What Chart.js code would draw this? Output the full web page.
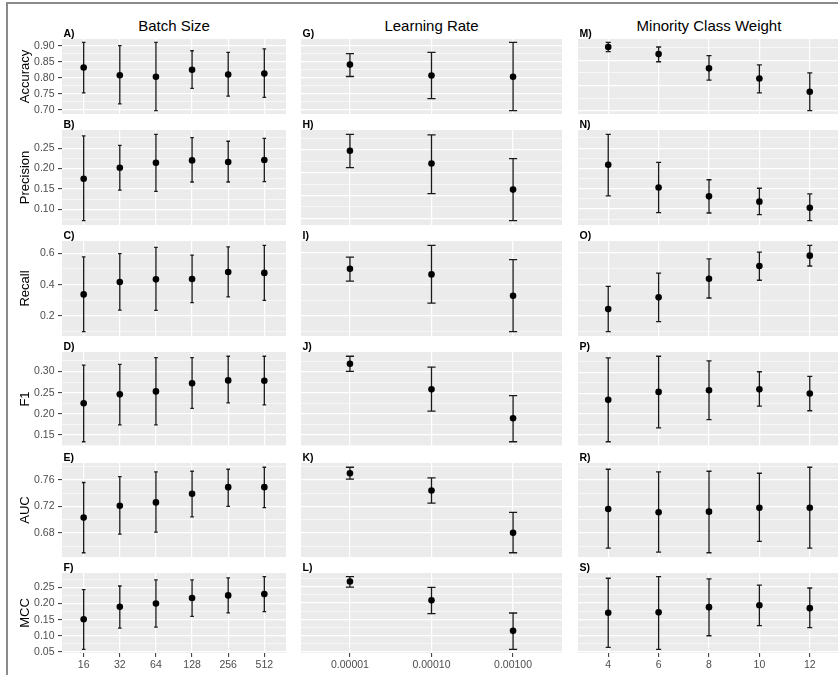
<!DOCTYPE html>
<html>
<head>
<meta charset="utf-8">
<script src="https://cdn.jsdelivr.net/npm/chart.js@4.4.1/dist/chart.umd.min.js"></script>
<style>
  html, body { margin: 0; padding: 0; background: #fff; overflow: hidden; }
  #page { position: relative; width: 838px; height: 675px; overflow: hidden; }
  #frame { position: absolute; left: 6px; top: 2px; width: 900px; height: 700px;
           border-left: 2px solid #8a8a8a; border-top: 2px solid #8a8a8a; }
  canvas { position: absolute; }
  .colTitle { position: absolute; top: 18px; font: 15px 'Liberation Sans', Arial, sans-serif;
              color: #000; text-align: center; line-height: 15px; white-space: nowrap; }
</style>
</head>
<body>
<div id="page">
  <div id="frame"></div>
</div>
<script>
// ---- data ----
const columnTitles = ['Batch Size', 'Learning Rate', 'Minority Class Weight'];
const metrics = ['Accuracy', 'Precision', 'Recall', 'F1', 'AUC', 'MCC'];
const batchSizes = ['16', '32', '64', '128', '256', '512'];
const learningRates = ['0.00001', '0.00010', '0.00100'];
const classWeights = ['4', '6', '8', '10', '12'];
const panelTags = [['A', 'B', 'C', 'D', 'E', 'F'], ['G', 'H', 'I', 'J', 'K', 'L'], ['M', 'N', 'O', 'P', 'R', 'S']];

// y tick spacing per metric row (labelled breaks), and decimals of the labels
const majorSteps = [0.05, 0.05, 0.2, 0.05, 0.04, 0.05];
const tickDecimals = [2, 2, 1, 2, 2, 2];

// rows = metrics, columns = factor levels
const batchMean = [
  [0.832, 0.808, 0.803, 0.825, 0.810, 0.813],
  [0.175, 0.202, 0.214, 0.220, 0.216, 0.221],
  [0.338, 0.417, 0.434, 0.436, 0.481, 0.475],
  [0.225, 0.246, 0.253, 0.272, 0.279, 0.278],
  [0.703, 0.721, 0.726, 0.739, 0.749, 0.749],
  [0.151, 0.190, 0.200, 0.217, 0.225, 0.229]
];
const batchLower = [
  [0.753, 0.719, 0.698, 0.767, 0.743, 0.739],
  [0.072, 0.147, 0.144, 0.167, 0.167, 0.168],
  [0.100, 0.238, 0.236, 0.285, 0.322, 0.300],
  [0.134, 0.174, 0.174, 0.213, 0.226, 0.221],
  [0.650, 0.678, 0.681, 0.704, 0.720, 0.718],
  [0.058, 0.124, 0.127, 0.160, 0.171, 0.175]
];
const batchUpper = [
  [0.910, 0.900, 0.910, 0.884, 0.879, 0.890],
  [0.280, 0.257, 0.284, 0.276, 0.267, 0.274],
  [0.577, 0.598, 0.638, 0.589, 0.641, 0.651],
  [0.315, 0.317, 0.333, 0.333, 0.336, 0.336],
  [0.756, 0.765, 0.772, 0.773, 0.776, 0.779],
  [0.243, 0.254, 0.273, 0.273, 0.279, 0.283]
];

const lrMean = [
  [0.841, 0.807, 0.803],
  [0.248, 0.220, 0.163],
  [0.500, 0.464, 0.328],
  [0.319, 0.258, 0.189],
  [0.770, 0.744, 0.680],
  [0.266, 0.208, 0.114]
];
const lrLower = [
  [0.804, 0.735, 0.698],
  [0.211, 0.154, 0.095],
  [0.421, 0.281, 0.100],
  [0.301, 0.206, 0.133],
  [0.761, 0.725, 0.650],
  [0.249, 0.167, 0.057]
];
const lrUpper = [
  [0.875, 0.879, 0.910],
  [0.284, 0.283, 0.231],
  [0.574, 0.649, 0.558],
  [0.337, 0.311, 0.243],
  [0.779, 0.763, 0.711],
  [0.281, 0.248, 0.169]
];

const weightMean = [
  [0.876, 0.862, 0.834, 0.814, 0.788],
  [0.209, 0.153, 0.131, 0.118, 0.103],
  [0.242, 0.317, 0.436, 0.517, 0.583],
  [0.234, 0.253, 0.257, 0.259, 0.249],
  [0.716, 0.711, 0.712, 0.718, 0.718],
  [0.170, 0.171, 0.187, 0.193, 0.184]
];
const weightLower = [
  [0.867, 0.847, 0.811, 0.786, 0.751],
  [0.132, 0.091, 0.090, 0.086, 0.071],
  [0.098, 0.162, 0.313, 0.426, 0.517],
  [0.134, 0.167, 0.187, 0.219, 0.208],
  [0.657, 0.651, 0.650, 0.667, 0.657],
  [0.063, 0.057, 0.099, 0.130, 0.124]
];
const weightUpper = [
  [0.885, 0.876, 0.859, 0.841, 0.825],
  [0.284, 0.215, 0.172, 0.151, 0.137],
  [0.387, 0.472, 0.562, 0.605, 0.649],
  [0.334, 0.338, 0.327, 0.301, 0.290],
  [0.776, 0.772, 0.773, 0.770, 0.779],
  [0.276, 0.281, 0.274, 0.255, 0.246]
];

// ---- layout of the grid of panels ----
const colBounds = [[62, 286], [301, 562], [578, 840]];
const rowBounds = [[39, 114], [130, 225], [241, 336], [352, 446], [463, 557], [573, 653]];
const FONT = "'Liberation Sans', Arial, Helvetica, sans-serif";
const page = document.getElementById('page');

const factorLabels = [batchSizes, learningRates, classWeights];
const factorMean = [batchMean, lrMean, weightMean];
const factorLower = [batchLower, lrLower, weightLower];
const factorUpper = [batchUpper, lrUpper, weightUpper];

Chart.defaults.font.family = FONT;

columnTitles.forEach((t, c) => {
  const d = document.createElement('div');
  d.className = 'colTitle';
  d.style.left = colBounds[c][0] + 'px';
  d.style.width = (colBounds[c][1] - colBounds[c][0]) + 'px';
  d.textContent = t;
  page.appendChild(d);
});

function makePanel(col, row) {
  const cats = factorLabels[col];
  const mean = factorMean[col][row];
  const lo = factorLower[col][row];
  const hi = factorUpper[col][row];
  const tag = panelTags[col][row] + ')';
  const [pl, pr] = colBounds[col];
  const [pt, pb] = rowBounds[row];
  const isLeft = col === 0;
  const isBottom = row === 5;
  const canvasLeft = isLeft ? 0 : pl;
  const axisW = pl - canvasLeft;
  const bottomH = isBottom ? 22 : 8;
  const w = pr - canvasLeft;
  const h = (pb - pt) + 16 + bottomH;

  // ggplot style 5% expansion of the data range
  const dmin = Math.min(...lo), dmax = Math.max(...hi);
  const pad = (dmax - dmin) * 0.05;
  const ymin = dmin - pad, ymax = dmax + pad;
  const minor = majorSteps[row] / 2;
  const yTicks = [];
  for (let k = Math.ceil(ymin / minor - 1e-9); k * minor <= ymax + 1e-9; k++) {
    yTicks.push(+(k * minor).toFixed(6));
  }
  const isMajor = v => Math.round(v / minor) % 2 === 0;

  const cv = document.createElement('canvas');
  cv.width = w; cv.height = h;
  cv.style.left = canvasLeft + 'px';
  cv.style.top = (pt - 16) + 'px';
  cv.style.width = w + 'px';
  cv.style.height = h + 'px';
  page.appendChild(cv);

  const panelPlugin = {
    id: 'panel' + tag,
    beforeDraw(chart) {
      const a = chart.chartArea, c = chart.ctx;
      c.save();
      c.fillStyle = '#ebebeb';
      c.fillRect(a.left, a.top, a.right - a.left, a.bottom - a.top);
      c.restore();
    },
    beforeDatasetsDraw(chart) {
      const xs = chart.scales.x, ys = chart.scales.y, c = chart.ctx;
      const half = xs.getPixelForValue(0.05) - xs.getPixelForValue(0);
      c.save();
      c.strokeStyle = '#1a1a1a';
      c.lineWidth = 1.3;
      lo.forEach((l, i) => {
        const x = xs.getPixelForValue(i);
        const y1 = ys.getPixelForValue(hi[i]);
        const y2 = ys.getPixelForValue(l);
        c.beginPath();
        c.moveTo(x, y1); c.lineTo(x, y2);
        c.moveTo(x - half, y1); c.lineTo(x + half, y1);
        c.moveTo(x - half, y2); c.lineTo(x + half, y2);
        c.stroke();
      });
      c.restore();
    },
    afterDraw(chart) {
      const a = chart.chartArea, c = chart.ctx;
      c.save();
      c.font = 'bold 10.5px ' + FONT;
      c.fillStyle = '#000';
      c.textBaseline = 'alphabetic';
      c.textAlign = 'left';
      c.fillText(tag, a.left + 1.5, a.top - 2.5);
      c.restore();
    }
  };

  new Chart(cv, {
    type: 'scatter',
    data: {
      datasets: [{
        data: mean.map((m, i) => ({ x: i, y: m })),
        pointRadius: 3.3,
        pointHoverRadius: 3.3,
        backgroundColor: '#000',
        borderWidth: 0
      }]
    },
    options: {
      responsive: false,
      animation: false,
      devicePixelRatio: 1,
      events: [],
      layout: { padding: { top: 16, left: 0, right: 0, bottom: 0 }, autoPadding: false },
      plugins: { legend: { display: false }, tooltip: { enabled: false } },
      scales: {
        x: {
          type: 'linear',
          min: -0.6,
          max: cats.length - 0.4,
          afterBuildTicks: ax => { ax.ticks = cats.map((c, i) => ({ value: i })); },
          afterFit: ax => { ax.height = bottomH; ax.paddingLeft = 0; ax.paddingRight = 0; },
          border: { display: false },
          grid: { color: '#ffffff', lineWidth: 1.2, drawTicks: isBottom, tickLength: 4, tickColor: '#333333', tickWidth: 1 },
          ticks: {
            display: isBottom, autoSkip: false, maxRotation: 0, padding: 2,
            color: '#4d4d4d', font: { size: 10.5 },
            callback: v => cats[Math.round(v)]
          }
        },
        y: {
          type: 'linear',
          min: ymin,
          max: ymax,
          afterBuildTicks: ax => { ax.ticks = yTicks.map(v => ({ value: v })); },
          afterFit: ax => { ax.width = axisW; ax.paddingTop = 0; ax.paddingBottom = 0; },
          border: { display: false },
          grid: {
            color: '#ffffff',
            lineWidth: ctx => isMajor(ctx.tick.value) ? 1.2 : 0.6,
            drawTicks: isLeft,
            tickLength: 4,
            tickWidth: 1,
            tickColor: ctx => isMajor(ctx.tick.value) ? '#333333' : 'rgba(0,0,0,0)'
          },
          ticks: {
            display: isLeft, autoSkip: false, padding: 3.5,
            color: '#4d4d4d', font: { size: 10.5 },
            callback: v => isMajor(v) ? v.toFixed(tickDecimals[row]) : ''
          },
          title: {
            display: isLeft, text: metrics[row], color: '#000',
            font: { size: 13 }, padding: { top: 18, bottom: 0 }
          }
        }
      }
    },
    plugins: [panelPlugin]
  });
}

for (let c = 0; c < 3; c++) {
  for (let r = 0; r < 6; r++) makePanel(c, r);
}
</script>
</body>
</html>
